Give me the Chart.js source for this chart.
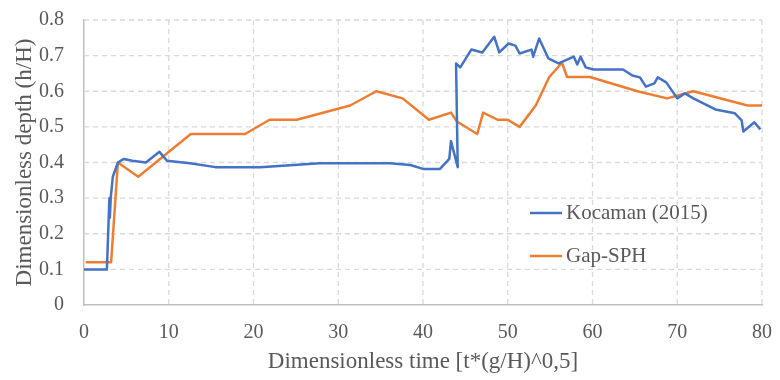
<!DOCTYPE html>
<html>
<head>
<meta charset="utf-8">
<script src="https://cdn.jsdelivr.net/npm/chart.js@4/dist/chart.umd.min.js"></script>
<style>
  html, body { margin: 0; padding: 0; background: #fff; }
  #wrap { width: 780px; height: 380px; }
</style>
</head>
<body>
<div id="wrap"><canvas id="depthChart" width="780" height="380"></canvas></div>
<script>
// --- DATA ---
const kocamanT = [0, 2.7, 3.0, 3.05, 3.15, 3.4, 4.0, 4.7, 5.7, 7.3, 8.9, 9.8, 12.5, 15.5, 20.8, 27.8, 36.1, 38.5, 40.0, 42.0, 43.1, 43.3, 44.1, 43.9, 44.4, 45.7, 47.0, 48.4, 49.0, 50.1, 50.9, 51.4, 52.8, 53.0, 53.7, 54.8, 56.0, 57.8, 58.2, 58.6, 59.2, 60.1, 63.6, 64.7, 65.6, 66.3, 67.3, 67.7, 68.7, 70.0, 70.9, 71.9, 74.5, 76.8, 77.6, 77.8, 79.1, 79.8];
const kocamanH = [0.10, 0.10, 0.30, 0.245, 0.30, 0.36, 0.40, 0.41, 0.405, 0.40, 0.43, 0.405, 0.398, 0.387, 0.387, 0.398, 0.398, 0.393, 0.382, 0.382, 0.41, 0.46, 0.387, 0.678, 0.667, 0.717, 0.709, 0.753, 0.709, 0.734, 0.728, 0.706, 0.717, 0.697, 0.748, 0.692, 0.678, 0.697, 0.675, 0.697, 0.667, 0.661, 0.661, 0.644, 0.639, 0.613, 0.622, 0.639, 0.625, 0.58, 0.594, 0.58, 0.549, 0.538, 0.518, 0.487, 0.513, 0.493];

const gapT = [0.2, 3.2, 4.0, 6.4, 12.6, 19.0, 21.9, 25.1, 31.4, 34.5, 37.6, 40.7, 43.3, 44.0, 46.4, 47.1, 48.8, 50.0, 51.4, 53.3, 54.9, 56.4, 57.0, 59.7, 65.3, 68.8, 71.9, 78.3, 80];
const gapH = [0.12, 0.12, 0.40, 0.36, 0.48, 0.48, 0.52, 0.52, 0.56, 0.60, 0.58, 0.52, 0.54, 0.515, 0.48, 0.54, 0.52, 0.52, 0.50, 0.56, 0.64, 0.68, 0.64, 0.64, 0.60, 0.58, 0.60, 0.56, 0.56];

const xTicks = [0, 10, 20, 30, 40, 50, 60, 70, 80];
const yTicks = [0, 0.1, 0.2, 0.3, 0.4, 0.5, 0.6, 0.7, 0.8];

const seriesNames = ['Kocaman (2015)', 'Gap-SPH'];
const seriesColors = ['#4472C4', '#ED7D31'];

const FONT = '"Liberation Serif", "Times New Roman", serif';
const TEXT = '#595959';

function toPoints(ts, hs) {
    return ts.map((t, i) => ({ x: t, y: hs[i] }));
}

// dashed grid, placed through the scales
const dashedGrid = {
    id: 'dashedGrid',
    beforeDatasetsDraw(chart) {
        const { ctx, chartArea: a, scales } = chart;
        ctx.save();
        ctx.strokeStyle = '#d9d9d9';
        ctx.lineWidth = 1.3;
        ctx.setLineDash([5, 4]);
        ctx.beginPath();
        xTicks.forEach(v => {
            if (v === 0) return;
            const x = scales.x.getPixelForValue(v);
            ctx.moveTo(x, a.top);
            ctx.lineTo(x, a.bottom);
        });
        yTicks.forEach(v => {
            if (v === 0) return;
            const y = scales.y.getPixelForValue(v);
            ctx.moveTo(a.left, y);
            ctx.lineTo(a.right, y);
        });
        ctx.stroke();
        ctx.restore();
    }
};

// legend drawn inside the plot area, Excel style
const insideLegend = {
    id: 'insideLegend',
    afterDraw(chart) {
        const ctx = chart.ctx;
        ctx.save();
        ctx.font = '21px ' + FONT;
        ctx.textBaseline = 'middle';
        chart.data.datasets.forEach((ds, i) => {
            const y = 213 + i * 43;
            ctx.strokeStyle = ds.borderColor;
            ctx.lineWidth = 2.5;
            ctx.beginPath();
            ctx.moveTo(530, y);
            ctx.lineTo(562, y);
            ctx.stroke();
            ctx.fillStyle = TEXT;
            ctx.fillText(ds.label, 566, y);
        });
        ctx.restore();
    }
};

const ctx = document.getElementById('depthChart').getContext('2d');
new Chart(ctx, {
    type: 'line',
    data: {
        datasets: [
            { label: seriesNames[0], data: toPoints(kocamanT, kocamanH), borderColor: seriesColors[0], backgroundColor: seriesColors[0] },
            { label: seriesNames[1], data: toPoints(gapT, gapH), borderColor: seriesColors[1], backgroundColor: seriesColors[1] }
        ]
    },
    options: {
        responsive: false,
        animation: false,
        layout: { padding: { top: 20, right: 18, left: 0, bottom: 0 } },
        elements: {
            point: { radius: 0 },
            line: { borderWidth: 2.5, tension: 0, borderJoinStyle: 'round' }
        },
        plugins: { legend: { display: false }, tooltip: { enabled: false } },
        scales: {
            x: {
                type: 'linear',
                min: 0, max: 80,
                afterBuildTicks: s => { s.ticks = xTicks.map(v => ({ value: v })); },
                afterFit: s => { s.height = 75; s.paddingLeft = 0; s.paddingRight = 0; },
                grid: { display: false, drawTicks: false },
                border: { display: true, color: '#bfbfbf', width: 1.5 },
                ticks: { color: TEXT, font: { family: FONT, size: 20 }, padding: 16, maxRotation: 0 },
                title: { display: true, text: 'Dimensionless time [t*(g/H)^0,5]', color: TEXT, font: { family: FONT, size: 23 }, padding: { top: 0, bottom: 4 } }
            },
            y: {
                min: 0, max: 0.8,
                afterBuildTicks: s => { s.ticks = yTicks.map(v => ({ value: v })); },
                afterFit: s => { s.width = 84; s.paddingTop = 0; s.paddingBottom = 0; },
                grid: { display: false, drawTicks: false },
                border: { display: true, color: '#bfbfbf', width: 1.5 },
                ticks: { color: TEXT, font: { family: FONT, size: 20 }, padding: 20, callback: v => String(v) },
                title: { display: true, text: 'Dimensionless depth (h/H)', color: TEXT, font: { family: FONT, size: 23 }, padding: { top: 11, bottom: 0 } }
            }
        }
    },
    plugins: [dashedGrid, insideLegend]
});
</script>
</body>
</html>
